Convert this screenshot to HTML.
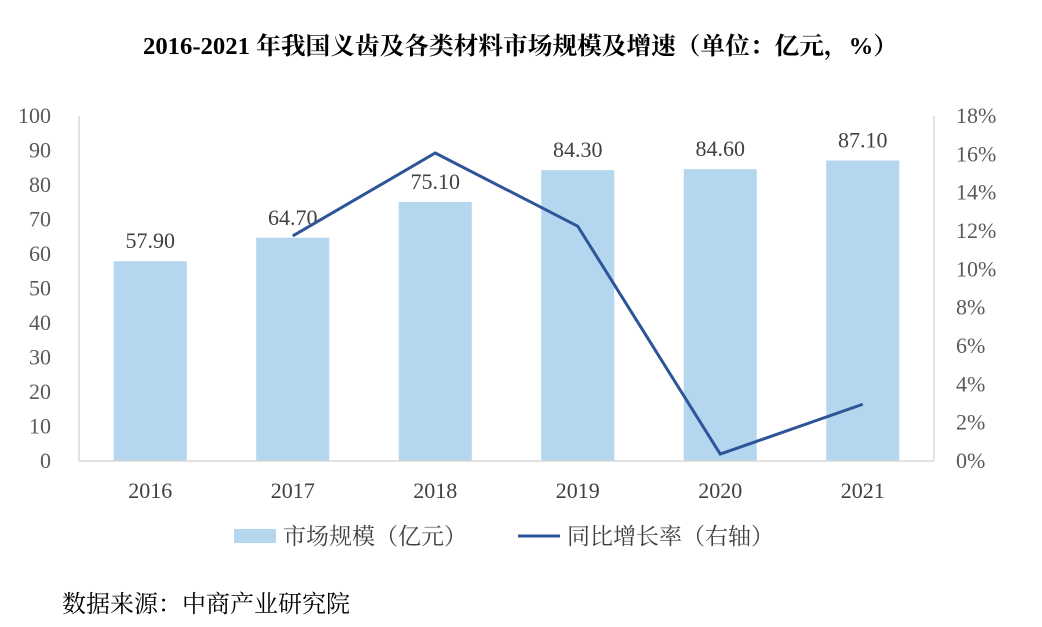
<!DOCTYPE html>
<html><head><meta charset="utf-8"><style>
body{margin:0;background:#fff;width:1042px;height:622px;overflow:hidden;font-family:"Liberation Serif","Noto Serif CJK SC",serif;}
</style></head><body>
<svg width="1042" height="622">
<text x="143" y="54" textLength="755" lengthAdjust="spacingAndGlyphs" font-size="24" font-weight="bold" fill="#000" font-family="'Liberation Serif','Noto Serif CJK SC',serif">2016-2021 年我国义齿及各类材料市场规模及增速（单位：亿元，%）</text>
<g id="g"></g>
<text x="62" y="612" font-size="24" fill="#000" font-family="'Liberation Serif','Noto Serif CJK SC',serif">数据来源：中商产业研究院</text>
</svg>
<script>
const categories=["2016","2017","2018","2019","2020","2021"];
const marketSize=[57.9,64.7,75.1,84.3,84.6,87.1];
const growth=[null,11.74,16.07,12.25,0.36,2.96];
const leftTicks=[0,10,20,30,40,50,60,70,80,90,100];
const rightTicks=[0,2,4,6,8,10,12,14,16,18];
const ns="http://www.w3.org/2000/svg",g=document.getElementById('g');
const X0=79,X1=934,Y0=461,Y1=116;
const step=(X1-X0)/categories.length;
const xc=i=>X0+step*(i+0.5);
const yL=v=>Y0-(v/100)*(Y0-Y1);
const yR=v=>Y0-(v/18)*(Y0-Y1);
function el(t,a,txt){const e=document.createElementNS(ns,t);for(const k in a)e.setAttribute(k,a[k]);if(txt!=null)e.textContent=txt;g.appendChild(e);return e;}
let e;
e=el('line',{x1:X0,y1:Y1,x2:X0,y2:Y0,stroke:'#d9d9d9','stroke-width':1.5});

e=el('line',{x1:X1,y1:Y1,x2:X1,y2:Y0,stroke:'#d9d9d9','stroke-width':1.5});

leftTicks.forEach(v=>{e=el('text',{x:51,y:yL(v)+7,'text-anchor':'end','font-size':22,fill:'#595959'},String(v));
});
rightTicks.forEach(v=>{e=el('text',{x:956,y:yR(v)+7,'font-size':22,fill:'#595959'},v+'%');
});
categories.forEach((c,i)=>{
 e=el('rect',{x:xc(i)-36.5,y:yL(marketSize[i]),width:73,height:Y0-yL(marketSize[i]),fill:'#b4d6ef'});
 
 e=el('text',{x:xc(i),y:yL(marketSize[i])-13,'text-anchor':'middle','font-size':22,fill:'#404040'},marketSize[i].toFixed(2));
 
 e=el('text',{x:xc(i),y:498,'text-anchor':'middle','font-size':22,fill:'#404040'},c);
 
});
e=el('line',{x1:X0,y1:Y0,x2:X1,y2:Y0,stroke:'#d9d9d9','stroke-width':1.5});

const pts=growth.map((v,i)=>v==null?null:xc(i)+','+yR(v)).filter(p=>p);
e=el('polyline',{points:pts.join(' '),fill:'none',stroke:'#2e5597','stroke-width':3});

e=el('rect',{x:234,y:529,width:42,height:14,fill:'#b4d6ef'});

e=el('text',{x:283,y:544,'font-size':23,fill:'#404040'},'市场规模（亿元）');

e=el('line',{x1:518,y1:536,x2:560,y2:536,stroke:'#2e5597','stroke-width':3});

e=el('text',{x:567,y:544,'font-size':23,fill:'#404040'},'同比增长率（右轴）');

</script>
</body></html>
